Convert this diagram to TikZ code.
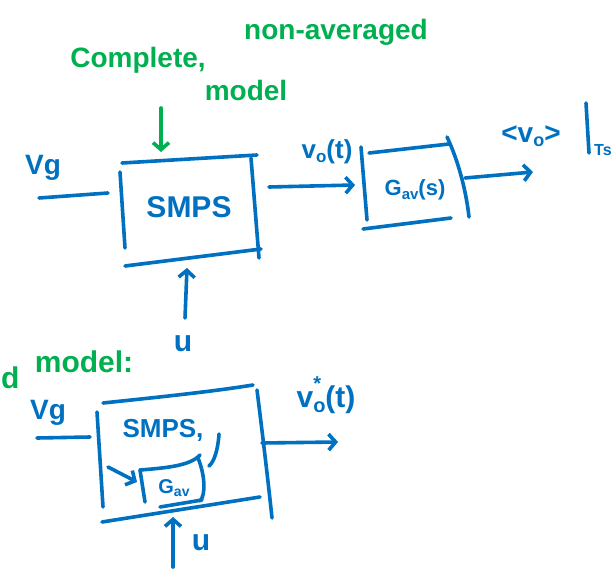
\documentclass[tikz,border=0pt]{standalone}
\usepackage{fontspec}
\setmainfont{Liberation Sans}
\usetikzlibrary{arrows.meta}
\definecolor{inkblue}{RGB}{0,112,192}
\definecolor{inkgreen}{RGB}{0,176,80}
\begin{document}
\begin{tikzpicture}[x=1pt,y=-1pt, line cap=round, line join=round,
  stroke/.style={draw=inkblue, line width=3.6pt},
  gstroke/.style={draw=inkgreen, line width=3.6pt},
  arr/.style={stroke, -{Straight Barb[length=7pt,width=16pt]}},
  garr/.style={gstroke, -{Straight Barb[length=7pt,width=16pt]}},
  lbl/.style={text=inkblue, inner sep=0pt},
  glbl/.style={text=inkgreen, inner sep=0pt},
  fs/.style={font=\fontsize{#1}{#1}\selectfont\bfseries}]
\useasboundingbox (0,0) rectangle (615,569);

% ---------- upper part ----------
\node[glbl, fs=28] (title1) at (138,60) {Complete,};
\node[glbl, fs=28] (title2) at (336,32) {non-averaged};
\node[glbl, fs=28] (model) at (246,90) {model};
\coordinate (ga1) at (161,108);
\coordinate (ga2) at (161,152);
\draw[garr] (ga1) -- (ga2);

% SMPS box
\node[lbl, fs=30] (smps) at (189,207) {SMPS};
\draw[stroke] (122,163) -- (257,155);
\draw[stroke] (120,172) -- (125,248);
\draw[stroke] (251,158) -- (259,258);
\draw[stroke] (125,266) -- (261,249);

% Vg input
\node[lbl, fs=28] (vg) at (43,168) {Vg};
\coordinate (vgl) at (39,198);
\coordinate (vgr) at (108,193);
\draw[stroke] (vgl) -- (vgr);

% vo(t)
\coordinate (s1out) at (269,187);
\coordinate (g1in) at (355,185);
\draw[arr] (s1out) -- (g1in);
\node[lbl, fs=26] (vot) at (327,152) {v\raisebox{-0.3ex}{\fontsize{17}{17}\selectfont o}(t)};

% Gav box
\node[lbl, fs=22] (gav) at (415,190) {G\raisebox{-0.3ex}{\fontsize{15}{15}\selectfont av}(s)};
\draw[stroke] (369,153) -- (449,144);
\draw[stroke] (361,147) -- (367,220);
\draw[stroke] (447,137) .. controls (458,160) and (466,190) .. (469,217);
\draw[stroke] (363,229) -- (451,218);

\coordinate (g1out) at (465,178);
\coordinate (avgend) at (533,172);
\draw[arr] (g1out) -- (avgend);
\node[lbl, fs=28] (avg) at (531,136) {<v\raisebox{-0.3ex}{\fontsize{18}{18}\selectfont o}>};
\draw[stroke] (586,103) -- (589,153);
\node[lbl, fs=16, anchor=west] (ts) at (594,150) {Ts};

% u input (upper)
\coordinate (u1a) at (185,318);
\coordinate (u1b) at (187,268);
\draw[arr] (u1a) -- (u1b);
\node[lbl, fs=30] (u1) at (183,344) {u};

% ---------- lower part ----------
\node[glbl, fs=30, anchor=west] (avd) at (1,378) {d};
\node[glbl, fs=30] (avmodel) at (84,362) {model:};

% lower SMPS box
\node[lbl, fs=26] (smps2) at (163,430) {SMPS,};
\draw[stroke] (103,403) .. controls (150,398) and (210,392) .. (253,385);
\draw[stroke] (97,412) -- (103,507);
\draw[stroke] (257,390) .. controls (262,430) and (268,480) .. (272,518);
\draw[stroke] (102,522) -- (260,497);
\draw[stroke] (219,434) .. controls (218,450) and (214,462) .. (209,466);

% inner Gav box
\node[lbl, fs=20] (gav2) at (174,488) {G\raisebox{-0.3ex}{\fontsize{14}{14}\selectfont av}};
\draw[stroke] (140,470) .. controls (165,468) and (190,466) .. (200,455);
\draw[stroke] (140,470) -- (145,502);
\draw[stroke] (198,458) .. controls (205,475) and (206,495) .. (200,501);
\draw[stroke] (160,507) -- (202,500);
\coordinate (ia1) at (108,467);
\coordinate (ia2) at (137,482);
\draw[arr] (ia1) -- (ia2);

% Vg lower
\node[lbl, fs=28] (vg2) at (48,413) {Vg};
\coordinate (vg2l) at (37,438);
\coordinate (vg2r) at (90,437);
\draw[stroke] (vg2l) -- (vg2r);

% output lower
\coordinate (s2out) at (262,443);
\coordinate (s2end) at (338,442);
\draw[arr] (s2out) -- (s2end);
\node[lbl, fs=30] (vostar) at (326,395) {v\rlap{\raisebox{1.1ex}{\fontsize{20}{20}\selectfont *}}\raisebox{-0.3ex}{\fontsize{20}{20}\selectfont o}(t)};

% u lower
\coordinate (u2a) at (173,567);
\coordinate (u2b) at (173,517);
\draw[arr] (u2a) -- (u2b);
\node[lbl, fs=30] (u2) at (201,543) {u};
\end{tikzpicture}
\end{document}
